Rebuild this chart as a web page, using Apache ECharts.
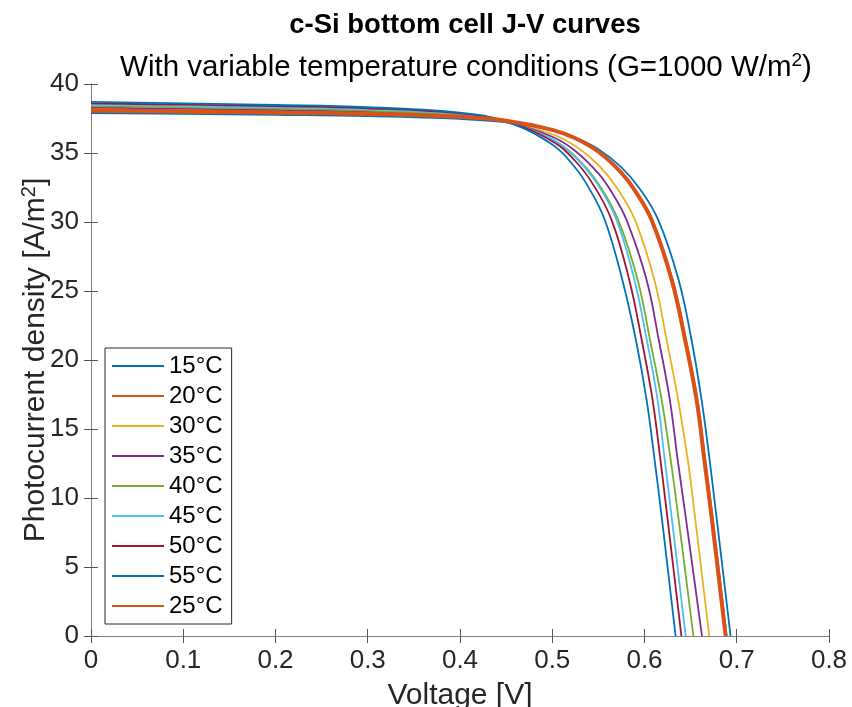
<!DOCTYPE html>
<html>
<head>
<meta charset="utf-8">
<script src="https://cdn.jsdelivr.net/npm/echarts@6/dist/echarts.min.js"></script>
<style>
  html, body { margin: 0; padding: 0; background: #fff; }
  #main { width: 852px; height: 707px; }
</style>
</head>
<body>
<div id="main"></div>
<script>
// J-V points: [voltage V, photocurrent density A/m2]
var t15 = [[0,37.9],[0.1,37.83],[0.2,37.76],[0.3,37.67],[0.4,37.47],[0.45,37.22],[0.5,36.65],[0.525,36.11],[0.55,35.27],[0.575,33.96],[0.595,32.39],[0.615,30.14],[0.637,25.8],[0.651,21.45],[0.6619,17.1],[0.6703,12.9],[0.678,8.65],[0.6933,0]];
var t20 = [[0,38.0],[0.1,37.93],[0.2,37.86],[0.3,37.77],[0.4,37.57],[0.45,37.3],[0.5,36.66],[0.525,36.07],[0.55,35.12],[0.575,33.62],[0.59,32.33],[0.6085,30.14],[0.6305,25.8],[0.645,21.45],[0.6575,17.1],[0.6656,12.9],[0.6737,8.65],[0.689,0]];
var t25 = [[0,38.1],[0.1,38.02],[0.2,37.94],[0.3,37.84],[0.4,37.62],[0.45,37.34],[0.5,36.68],[0.525,36.07],[0.55,35.09],[0.575,33.56],[0.59,32.24],[0.6077,30.14],[0.6295,25.8],[0.644,21.45],[0.6565,17.1],[0.6646,12.9],[0.6727,8.65],[0.688,0]];
var t30 = [[0,38.2],[0.1,38.12],[0.2,38.03],[0.3,37.91],[0.4,37.64],[0.45,37.26],[0.5,36.36],[0.525,35.5],[0.55,34.13],[0.57,32.48],[0.5897,30.14],[0.6107,25.8],[0.624,21.45],[0.6365,17.1],[0.6466,12.9],[0.6547,8.65],[0.6702,0]];
var t35 = [[0,38.3],[0.1,38.21],[0.2,38.12],[0.3,37.99],[0.4,37.69],[0.45,37.25],[0.5,36.18],[0.525,35.15],[0.55,33.52],[0.565,32.1],[0.5806,30.14],[0.6023,25.8],[0.6155,21.45],[0.6275,17.1],[0.6357,12.9],[0.6446,8.65],[0.6623,0]];
var t40 = [[0,38.4],[0.1,38.31],[0.2,38.21],[0.3,38.07],[0.4,37.74],[0.45,37.23],[0.5,35.98],[0.525,34.75],[0.55,32.78],[0.5716,30.14],[0.5926,25.8],[0.606,21.45],[0.6186,17.1],[0.6281,12.9],[0.6366,8.65],[0.653,0]];
var t45 = [[0,38.5],[0.1,38.4],[0.2,38.3],[0.3,38.16],[0.4,37.81],[0.45,37.29],[0.5,35.99],[0.525,34.71],[0.55,32.64],[0.5698,30.14],[0.5891,25.8],[0.6025,21.45],[0.6142,17.1],[0.6217,12.9],[0.6294,8.65],[0.6446,0]];
var t50 = [[0,38.6],[0.1,38.5],[0.2,38.39],[0.3,38.24],[0.4,37.87],[0.45,37.29],[0.5,35.85],[0.525,34.42],[0.545,32.65],[0.5644,30.14],[0.5835,25.8],[0.597,21.45],[0.6088,17.1],[0.617,12.9],[0.6247,8.65],[0.64,0]];
var t55 = [[0,38.7],[0.1,38.59],[0.2,38.48],[0.3,38.32],[0.4,37.92],[0.45,37.27],[0.5,35.61],[0.525,33.93],[0.54,32.44],[0.557,30.14],[0.576,25.8],[0.5907,21.45],[0.6023,17.1],[0.6107,12.9],[0.6186,8.65],[0.6337,0]];

var names = ['15°C', '20°C', '30°C', '35°C', '40°C', '45°C', '50°C', '55°C', '25°C'];
var curves = [t15, t20, t30, t35, t40, t45, t50, t55, t25];
var colors = ['#0072BD', '#D95319', '#EDB120', '#7E2F8E', '#77AC30', '#4DBEEE', '#A2142F', '#0072BD', '#D95319'];

var font = 'Liberation Sans, Arial, Helvetica, sans-serif';
var textColor = '#262626';

var chartDom = document.getElementById('main');
var myChart = echarts.init(chartDom, null, { renderer: 'canvas' });

var series = [];
curves.forEach(function(c, i) {
	var thick = names[i] === '25°C';
	series.push({
		name: names[i],
		type: 'line',
		data: c,
		symbol: 'none',
		smooth: 0.4,
		lineStyle: { width: thick ? 4 : 1.8, color: colors[i] },
		itemStyle: { color: colors[i] },
		z: thick ? 5 : 2
	});
});

// box style axes (ticks inside on all four sides)
var tickStyle = { inside: true, length: 7, lineStyle: { color: '#555' } };
var lineStyle = { show: true, lineStyle: { color: '#808080', width: 1 } };

var option = {
	animation: false,
	title: [{
		text: 'c-Si bottom cell J-V curves',
		left: 460,
		textAlign: 'center',
		top: 6,
		textStyle: { fontFamily: font, fontSize: 27.5, fontWeight: 'bold', color: '#000' }
	}, {
		text: 'With variable temperature conditions (G=1000 W/m{sup|2})',
		left: 461,
		textAlign: 'center',
		top: 46,
		textStyle: {
			fontFamily: font, fontSize: 29.5, fontWeight: 'normal', color: '#000',
			rich: { sup: { fontFamily: font, fontSize: 19, verticalAlign: 'top', padding: [0, 0, 14, 0], color: '#000' } }
		}
	}],
	legend: {
		orient: 'vertical',
		left: 105,
		top: 348,
		padding: [6, 9, 6, 6],
		itemWidth: 52,
		itemHeight: 14,
		itemGap: 6,
		borderColor: textColor,
		borderWidth: 1,
		backgroundColor: '#fff',
		itemStyle: { opacity: 0 },
		textStyle: { fontFamily: font, fontSize: 24, lineHeight: 24, color: '#000' },
		data: names
	},
	grid: { left: 91, right: 23, top: 84, bottom: 71, outerBoundsMode: 'none' },
	xAxis: [{
		type: 'value',
		min: 0,
		max: 0.8,
		interval: 0.1,
		axisLine: lineStyle,
		axisTick: tickStyle,
		splitLine: { show: false },
		axisLabel: { fontFamily: font, fontSize: 26, color: textColor, margin: 12 },
		name: 'Voltage [V]',
		nameLocation: 'middle',
		nameGap: 45,
		nameMoveOverlap: false,
		nameTextStyle: { fontFamily: font, fontSize: 30, color: textColor }
	}, {
		type: 'value',
		position: 'top',
		min: 0,
		max: 0.8,
		interval: 0.1,
		axisLine: lineStyle,
		axisTick: tickStyle,
		splitLine: { show: false },
		axisLabel: { show: false }
	}],
	yAxis: [{
		type: 'value',
		min: 0,
		max: 40,
		interval: 5,
		axisLine: lineStyle,
		axisTick: tickStyle,
		splitLine: { show: false },
		axisLabel: { fontFamily: font, fontSize: 26, color: textColor, margin: 12 },
		name: 'Photocurrent density [A/m{sup|2}]',
		nameLocation: 'middle',
		nameGap: 38,
		nameMoveOverlap: false,
		nameTextStyle: {
			fontFamily: font, fontSize: 30, color: textColor,
			rich: { sup: { fontFamily: font, fontSize: 20, verticalAlign: 'top', padding: [0, 0, 14, 0], color: textColor } }
		}
	}, {
		type: 'value',
		position: 'right',
		min: 0,
		max: 40,
		interval: 5,
		axisLine: lineStyle,
		axisTick: tickStyle,
		splitLine: { show: false },
		axisLabel: { show: false }
	}],
	series: series
};

option && myChart.setOption(option, true);
</script>
</body>
</html>
